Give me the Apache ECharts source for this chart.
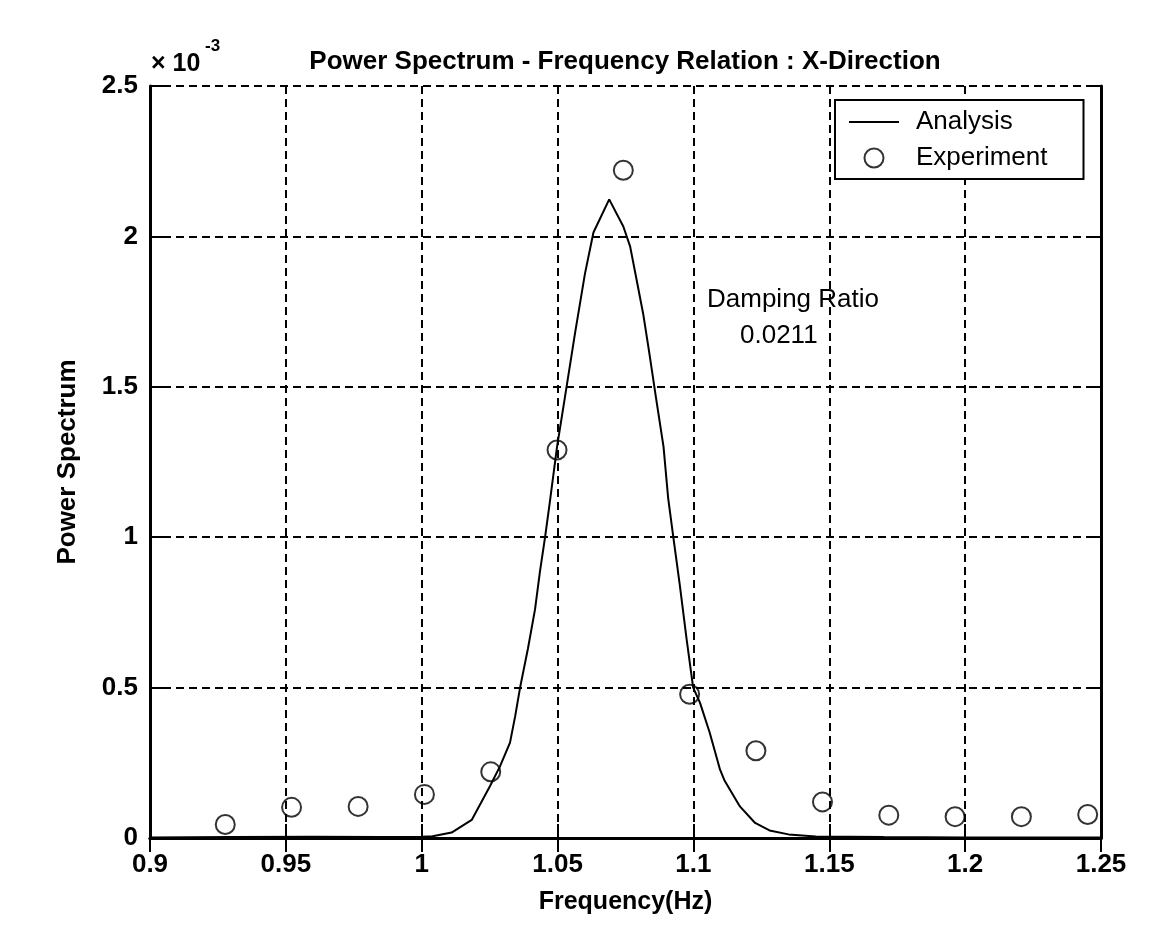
<!DOCTYPE html>
<html>
<head>
<meta charset="utf-8">
<script src="https://cdn.jsdelivr.net/npm/echarts@6/dist/echarts.min.js"></script>
<style>
  html, body { margin: 0; padding: 0; background: #fff; }
  #chart { width: 1157px; height: 935px; }
</style>
</head>
<body>
<div id="chart"></div>
<script>
// Measured power spectrum (units of 1e-3) at the FFT frequency bins
const expFreq = [0.9277, 0.9521, 0.9766, 1.0010, 1.0254, 1.0498, 1.0742,
                 1.0986, 1.1230, 1.1475, 1.1719, 1.1963, 1.2207, 1.2451];
const expPower = [0.045, 0.102, 0.105, 0.145, 0.22, 1.29, 2.22,
                  0.478, 0.29, 0.12, 0.076, 0.071, 0.071, 0.078];

// Analytical power spectrum (units of 1e-3)
const anaFreq = [0.900, 0.930, 0.960, 0.985, 1.000, 1.004, 1.011, 1.0184, 1.0251, 1.0288,
                 1.0325, 1.0344, 1.0362, 1.0391, 1.0417, 1.0435, 1.0454, 1.0472, 1.0498, 1.0527,
                 1.0564, 1.0601, 1.0632, 1.0690, 1.0742, 1.0767, 1.0791, 1.0815, 1.0838, 1.0862,
                 1.0890, 1.0907, 1.0926, 1.0950, 1.0975, 1.0999, 1.1024, 1.1060, 1.1098, 1.1115,
                 1.1171, 1.1227, 1.1280, 1.1350, 1.1450, 1.1700, 1.2000, 1.2500];
const anaPower = [0.002, 0.003, 0.004, 0.003, 0.004, 0.006, 0.018, 0.06, 0.172, 0.238,
                  0.317, 0.405, 0.50, 0.63, 0.76, 0.885, 1.00, 1.12, 1.30, 1.465,
                  1.677, 1.877, 2.013, 2.123, 2.033, 1.967, 1.855, 1.743, 1.61, 1.465,
                  1.30, 1.13, 1.00, 0.84, 0.66, 0.50, 0.45, 0.35, 0.227, 0.19,
                  0.105, 0.05, 0.025, 0.012, 0.005, 0.003, 0.002, 0.002];

const xRange = { min: 0.9, max: 1.25, interval: 0.05 };
const yRange = { min: 0, max: 2.5, interval: 0.5 };

const titleText = 'Power Spectrum - Frequency Relation : X-Direction';
const dampingLines = ['Damping Ratio', '0.0211'];

const FONT = "'Liberation Sans', Arial, sans-serif";

const chart = echarts.init(document.getElementById('chart'), null, { renderer: 'canvas' });

const dashed = { color: '#000', width: 2, type: [8, 5] };
const tickFmt = v => String(+(+v).toFixed(2));

chart.setOption({
  backgroundColor: '#fff',
  animation: false,
  grid: { left: 150, right: 56, top: 86, bottom: 97, containLabel: false },
  xAxis: [{
    type: 'value', position: 'bottom',
    min: xRange.min, max: xRange.max, interval: xRange.interval,
    name: 'Frequency(Hz)', nameLocation: 'middle', nameGap: 52,
    nameTextStyle: { fontFamily: FONT, fontSize: 25, fontWeight: 'bold', color: '#000' },
    axisLine: { show: true, lineStyle: { color: '#000', width: 3 } },
    axisTick: { show: true, inside: true, length: 14, lineStyle: { color: '#000', width: 2 } },
    axisLabel: { formatter: tickFmt, margin: 14, fontFamily: FONT, fontSize: 26, fontWeight: 'bold', color: '#000' },
    splitLine: { show: true, lineStyle: dashed }
  }, {
    type: 'value', position: 'top',
    min: xRange.min, max: xRange.max, interval: xRange.interval,
    axisLine: { show: true, lineStyle: { color: '#000', width: 3 } },
    axisTick: { show: true, inside: true, length: 14, lineStyle: { color: '#000', width: 2 } },
    axisLabel: { show: false },
    splitLine: { show: false }
  }],
  yAxis: [{
    type: 'value', position: 'left',
    min: yRange.min, max: yRange.max, interval: yRange.interval,
    name: 'Power Spectrum', nameLocation: 'middle', nameGap: 69, nameRotate: 90,
    nameTextStyle: { fontFamily: FONT, fontSize: 26, fontWeight: 'bold', color: '#000' },
    axisLine: { show: true, lineStyle: { color: '#000', width: 3 } },
    axisTick: { show: true, inside: true, length: 14, lineStyle: { color: '#000', width: 2 } },
    axisLabel: { formatter: tickFmt, margin: 12, fontFamily: FONT, fontSize: 26, fontWeight: 'bold', color: '#000' },
    splitLine: { show: true, lineStyle: dashed }
  }, {
    type: 'value', position: 'right',
    min: yRange.min, max: yRange.max, interval: yRange.interval,
    axisLine: { show: true, lineStyle: { color: '#000', width: 3 } },
    axisTick: { show: true, inside: true, length: 14, lineStyle: { color: '#000', width: 2 } },
    axisLabel: { show: false },
    splitLine: { show: false }
  }],
  legend: {
    orient: 'vertical',
    left: 835, top: 100,
    padding: [8, 36, 7, 13],
    itemGap: 8,
    itemWidth: 50, itemHeight: 19,
    backgroundColor: '#fff',
    borderColor: '#000', borderWidth: 2, borderRadius: 0,
    textStyle: { fontFamily: FONT, fontSize: 26, color: '#000', lineHeight: 28, padding: [0, 0, 0, 12] },
    data: [
      { name: 'Analysis' },
      { name: 'Experiment', icon: 'circle' }
    ]
  },
  graphic: [
    { type: 'text', x: 625, y: 62,
      style: { text: titleText, textAlign: 'center', textVerticalAlign: 'middle',
               font: `bold 26px ${FONT}`, fill: '#000' } },
    { type: 'text', x: 151, y: 64,
      style: { text: '× 10', textAlign: 'left', textVerticalAlign: 'middle',
               font: `bold 25px ${FONT}`, fill: '#000' } },
    { type: 'text', x: 205, y: 46,
      style: { text: '-3', textAlign: 'left', textVerticalAlign: 'middle',
               font: `bold 17px ${FONT}`, fill: '#000' } },
    { type: 'text', x: 707, y: 300,
      style: { text: dampingLines[0], textAlign: 'left', textVerticalAlign: 'middle',
               font: `26px ${FONT}`, fill: '#000' } },
    { type: 'text', x: 740, y: 336,
      style: { text: dampingLines[1], textAlign: 'left', textVerticalAlign: 'middle',
               font: `26px ${FONT}`, fill: '#000' } }
  ],
  series: [{
    name: 'Analysis',
    type: 'line',
    data: anaFreq.map((f, i) => [f, anaPower[i]]),
    showSymbol: false, symbol: 'none', smooth: false,
    lineStyle: { color: '#000', width: 2 },
    // transparent item colour keeps the legend icon a plain line
    itemStyle: { color: 'rgba(0,0,0,0)', borderColor: 'rgba(0,0,0,0)' },
    z: 3
  }, {
    name: 'Experiment',
    type: 'scatter',
    data: expFreq.map((f, i) => [f, expPower[i]]),
    symbol: 'circle', symbolSize: 19,
    itemStyle: { color: 'rgba(255,255,255,0)', borderColor: '#000', borderWidth: 2 },
    z: 4
  }]
});
</script>
</body>
</html>
